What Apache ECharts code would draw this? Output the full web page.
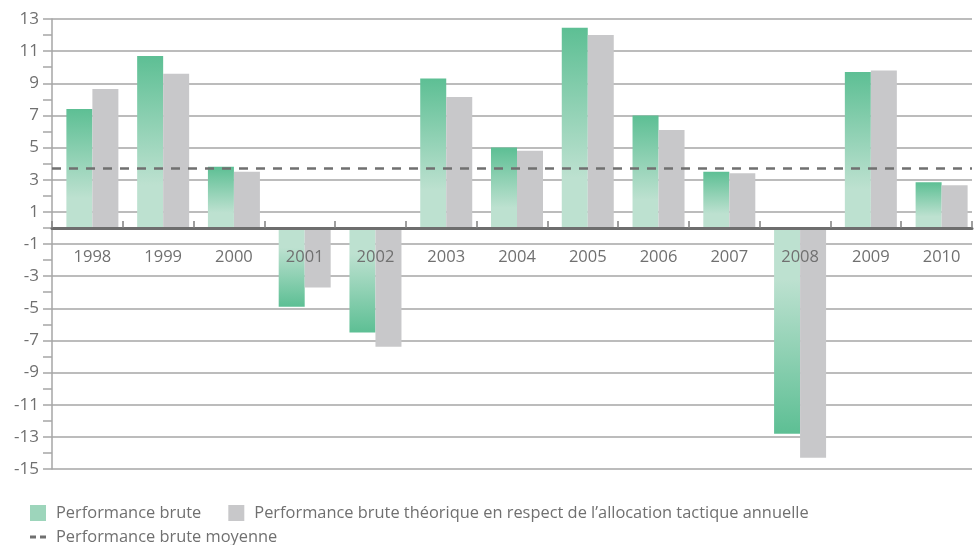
<!DOCTYPE html>
<html>
<head>
<meta charset="utf-8">
<script src="https://cdn.jsdelivr.net/npm/echarts@6/dist/echarts.min.js"></script>
<style>
html, body { margin: 0; padding: 0; background: #fff; }
#perfChart { width: 976px; height: 545px; }
</style>
</head>
<body>
<div id="perfChart"></div>
<script>
// données
var years = ['1998', '1999', '2000', '2001', '2002', '2003', '2004', '2005', '2006', '2007', '2008', '2009', '2010'];
var perfBrute = [7.4, 10.7, 3.8, -4.9, -6.5, 9.3, 5.0, 12.45, 7.0, 3.5, -12.8, 9.7, 2.85];
var perfTheorique = [8.65, 9.6, 3.5, -3.7, -7.4, 8.15, 4.8, 12.0, 6.1, 3.4, -14.3, 9.8, 2.65];
var perfMoyenne = 3.7;

var names = [
    'Performance brute',
    'Performance brute théorique en respect de l’allocation tactique annuelle',
    'Performance brute moyenne'
];

var textGrey = '#707070';
var lineGrey = '#a6a6a6';
var font = '"Open Sans", "Noto Sans", sans-serif';

// axe des valeurs : -15 .. 13 sur 450 px, l'axe des catégories est posé sur le zéro
var yMin = -15, yMax = 13, gridTop = 19, gridBottom = 76, chartH = 545;
var plotH = chartH - gridTop - gridBottom;
var zeroOffset = -plotH * (0 - yMin) / (yMax - yMin);

// dégradé vert : foncé à l'extrémité de la barre, clair près de zéro
function greenBar(v) {
    var stops = [
        {offset: 0, color: '#5dbf94'},
        {offset: 0.75, color: '#bde1d0'},
        {offset: 1, color: '#bde1d0'}
    ];
    return v >= 0
        ? new echarts.graphic.LinearGradient(0, 0, 0, 1, stops)
        : new echarts.graphic.LinearGradient(0, 1, 0, 0, stops);
}

var option = {
    backgroundColor: '#fff',
    animation: false,
    textStyle: {fontFamily: font},
    grid: {left: 52, right: 4, top: gridTop, bottom: gridBottom},
    legend: [
        {
            data: [names[0], names[1]],
            left: 30,
            top: 505,
            padding: 0,
            icon: 'rect',
            itemWidth: 16,
            itemHeight: 16,
            itemGap: 27,
            textStyle: {fontSize: 16.4, color: textGrey, fontFamily: font, padding: [0, 0, 0, 5]}
        },
        {
            data: [names[2]],
            left: 30,
            top: 529,
            padding: 0,
            icon: 'path://M0,13h6v3h-6z M10,13h6v3h-6z',
            itemWidth: 16,
            itemHeight: 16,
            itemStyle: {color: textGrey},
            textStyle: {fontSize: 16.4, color: textGrey, fontFamily: font, padding: [0, 0, 0, 5]}
        }
    ],
    xAxis: {
        type: 'category',
        data: years,
        z: 10,
        offset: zeroOffset,
        axisLine: {onZero: false, lineStyle: {color: '#6e6e6e', width: 3}},
        axisTick: {show: true, inside: true, length: 7, lineStyle: {color: '#808080', width: 1.5}},
        axisLabel: {fontSize: 16.5, color: textGrey, margin: 21, fontFamily: font, padding: [0, 0, 0, 10]},
        splitLine: {show: false}
    },
    yAxis: {
        type: 'value',
        min: yMin,
        max: yMax,
        interval: 2,
        axisLine: {show: true, lineStyle: {color: lineGrey, width: 1.5}},
        axisTick: {show: true, length: 9, lineStyle: {color: lineGrey, width: 1.5}},
        minorTick: {show: true, splitNumber: 2, length: 9, lineStyle: {color: lineGrey, width: 1.5}},
        axisLabel: {fontSize: 17, color: textGrey, margin: 13, fontFamily: font},
        splitLine: {show: true, lineStyle: {color: lineGrey, width: 1.5}}
    },
    series: [
        {
            // espace vide à gauche des barres (décalage du groupe vers la droite)
            name: 'spacer',
            type: 'bar',
            barWidth: 10,
            barGap: 0,
            silent: true,
            data: []
        },
        {
            name: names[0],
            type: 'bar',
            barWidth: 26,
            barGap: 0,
            itemStyle: {color: '#9dd5bb'},
            data: perfBrute.map(function (v) {
                return {value: v, itemStyle: {color: greenBar(v)}};
            })
        },
        {
            name: names[1],
            type: 'bar',
            barWidth: 26,
            barGap: 0,
            itemStyle: {color: '#c8c8ca'},
            data: perfTheorique
        },
        {
            name: names[2],
            type: 'line',
            data: [],
            itemStyle: {color: textGrey},
            lineStyle: {color: textGrey},
            markLine: {
                silent: true,
                symbol: 'none',
                label: {show: false},
                lineStyle: {color: textGrey, width: 2.5, type: [9, 8]},
                data: [{yAxis: perfMoyenne}]
            }
        }
    ]
};

echarts.init(document.getElementById('perfChart')).setOption(option);
</script>
</body>
</html>
